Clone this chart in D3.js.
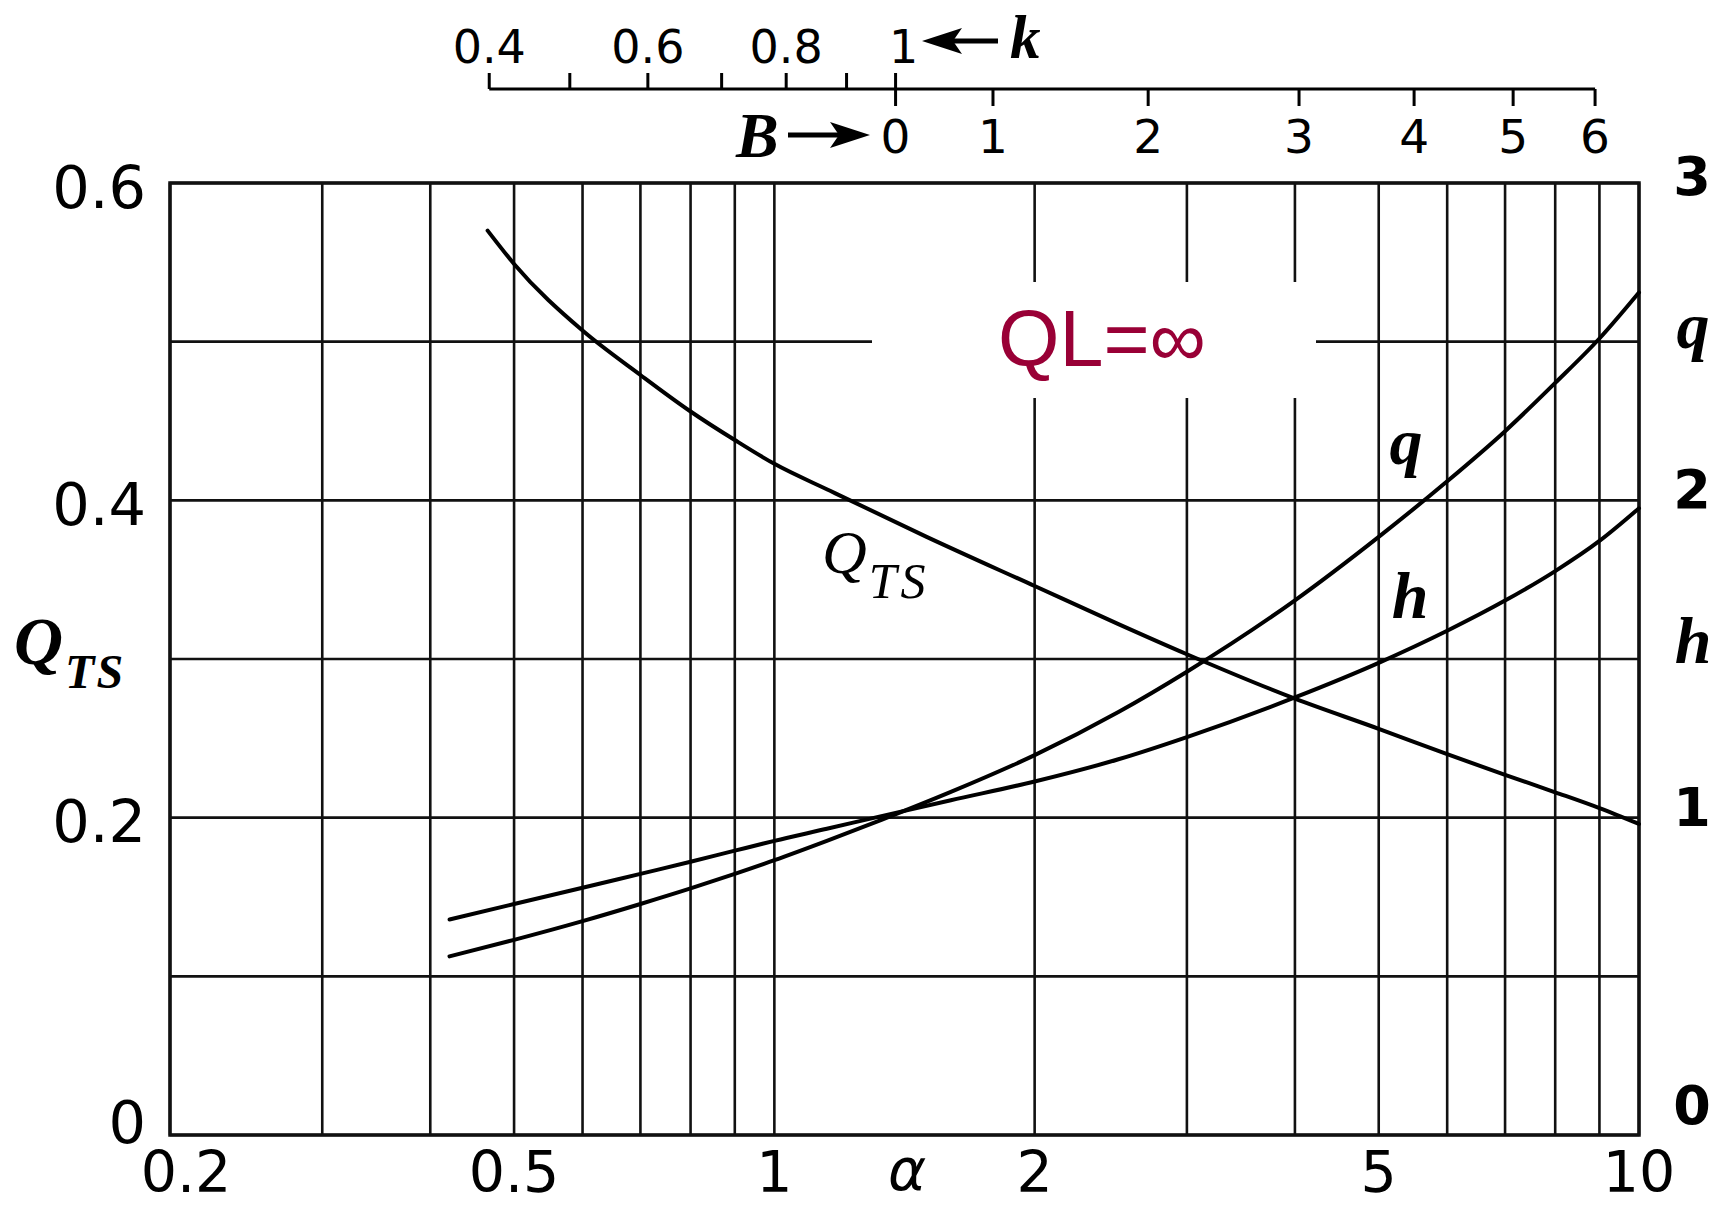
<!DOCTYPE html>
<html>
<head>
<meta charset="utf-8">
<script src="https://cdn.jsdelivr.net/npm/d3@7"></script>
<style>
  html, body { margin: 0; padding: 0; background: #fff; }
  svg { display: block; }
</style>
</head>
<body>
<svg id="chart" width="1719" height="1208"></svg>
<script>
// Sampled curves against the parameter alpha
const alphaQts = [0.466, 0.5, 0.6, 0.7, 0.8, 0.9, 1.0, 1.16, 1.5, 2, 2.5, 3, 4, 5, 6, 7, 8, 9, 10];
const qtsValues = [0.570, 0.549, 0.507, 0.479, 0.456, 0.438, 0.423, 0.406, 0.377, 0.346, 0.322, 0.303, 0.275, 0.256, 0.240, 0.227, 0.216, 0.206, 0.196];

const alphaQH = [0.421, 0.5, 0.6, 0.7, 0.8, 0.9, 1.0, 1.15, 1.33, 1.6, 2, 2.5, 3, 4, 5, 6, 7, 8, 9, 10];
const qValues = [0.563, 0.615, 0.674, 0.728, 0.777, 0.823, 0.866, 0.927, 0.993, 1.081, 1.197, 1.333, 1.460, 1.685, 1.885, 2.060, 2.218, 2.370, 2.510, 2.655];
const hValues = [0.679, 0.728, 0.779, 0.823, 0.861, 0.896, 0.927, 0.965, 1.005, 1.055, 1.114, 1.184, 1.254, 1.379, 1.488, 1.589, 1.684, 1.777, 1.872, 1.975];

// Grid and tick values
const alphaGrid = [0.2, 0.3, 0.4, 0.5, 0.6, 0.7, 0.8, 0.9, 1, 2, 3, 4, 5, 6, 7, 8, 9, 10];
const qtsGrid = [0, 0.1, 0.2, 0.3, 0.4, 0.5, 0.6];
const alphaTickLabels = [0.2, 0.5, 1, 2, 5, 10];
const qtsTickLabels = [0, 0.2, 0.4, 0.6];
const rightTickLabels = [0, 1, 2, 3];

// Auxiliary scales along the top: k and B, with the alpha each tick sits at
const kTicks = [0.4, 0.5, 0.6, 0.7, 0.8, 0.9, 1];
const kAlpha = [0.468, 0.580, 0.714, 0.869, 1.032, 1.212, 1.381];
const kLabelled = [0.4, 0.6, 0.8, 1];
const bTicks = [0, 1, 2, 3, 4, 5, 6];
const bAlpha = [1.381, 1.790, 2.706, 4.044, 5.494, 7.152, 8.896];

const svg = d3.select("#chart");
const L = 170, R = 1639, T = 183, B = 1135;

const x = d3.scaleLog().domain([0.2, 10]).range([L, R]);
const yL = d3.scaleLinear().domain([0, 0.6]).range([B, T]);
const yR = d3.scaleLinear().domain([0, 3]).range([B, T]);

const sans = "'DejaVu Sans', sans-serif";
const serif = "'Liberation Serif', 'DejaVu Serif', serif";
const ink = "#111";

// grid
const grid = svg.append("g").attr("stroke", ink).attr("stroke-width", 2.6);
grid.selectAll("line.v").data(alphaGrid).join("line")
  .attr("class", "v")
  .attr("x1", d => x(d)).attr("x2", d => x(d))
  .attr("y1", T).attr("y2", B);
grid.selectAll("line.h").data(qtsGrid).join("line")
  .attr("class", "h")
  .attr("x1", L).attr("x2", R)
  .attr("y1", d => yL(d)).attr("y2", d => yL(d));

// frame
svg.append("rect")
  .attr("x", L).attr("y", T).attr("width", R - L).attr("height", B - T)
  .attr("fill", "none").attr("stroke", ink).attr("stroke-width", 3.5);

// cleared panel for the load condition note
svg.append("rect")
  .attr("x", 872).attr("y", 282).attr("width", 444).attr("height", 116)
  .attr("fill", "#fff");
svg.append("text")
  .attr("x", 998).attr("y", 366)
  .attr("font-family", "'Liberation Sans', Arial, sans-serif")
  .attr("font-size", 79)
  .attr("fill", "#990036")
  .text("QL=∞");

// curves
const lineL = d3.line().x(d => x(d[0])).y(d => yL(d[1])).curve(d3.curveMonotoneX);
const lineR = d3.line().x(d => x(d[0])).y(d => yR(d[1])).curve(d3.curveMonotoneX);
const curves = svg.append("g").attr("fill", "none").attr("stroke", "#000")
  .attr("stroke-width", 4).attr("stroke-linejoin", "round").attr("stroke-linecap", "round");
curves.append("path").attr("d", lineL(d3.zip(alphaQts, qtsValues)));
curves.append("path").attr("d", lineR(d3.zip(alphaQH, qValues)));
curves.append("path").attr("d", lineR(d3.zip(alphaQH, hValues)));

// bottom alpha labels
svg.append("g").selectAll("text").data(alphaTickLabels).join("text")
  .attr("x", (d, i) => x(d) + (i === 0 ? 16 : 0))
  .attr("y", 1192)
  .attr("text-anchor", "middle")
  .attr("font-family", sans).attr("font-size", 57).attr("fill", "#000")
  .text(d => String(d));
svg.append("text")
  .attr("x", 907).attr("y", 1190).attr("text-anchor", "middle")
  .attr("font-family", sans).attr("font-style", "italic")
  .attr("font-size", 58).attr("fill", "#000").text("α");

// left Q_TS labels
svg.append("g").selectAll("text").data(qtsTickLabels).join("text")
  .attr("x", 146)
  .attr("y", d => Math.min(yL(d) + 4, 1122))
  .attr("dominant-baseline", "central")
  .attr("text-anchor", "end")
  .attr("font-family", sans).attr("font-size", 59).attr("fill", "#000")
  .text(d => d === 0 ? "0" : d.toFixed(1));

// right q/h labels
svg.append("g").selectAll("text").data(rightTickLabels).join("text")
  .attr("x", 1692)
  .attr("y", d => Math.max(195, Math.min(yR(d) + 8, 1124)))
  .attr("text-anchor", "middle")
  .attr("font-family", sans).attr("font-weight", "bold").attr("font-size", 54).attr("fill", "#000")
  .text(d => String(d));

// axis names
const axisLeft = svg.append("text").attr("x", 14).attr("y", 664)
  .attr("font-family", serif).attr("font-style", "italic").attr("font-weight", "bold").attr("fill", "#000");
axisLeft.append("tspan").attr("font-size", 68).text("Q");
axisLeft.append("tspan").attr("font-size", 48).attr("dy", 24).attr("dx", 2)
  .attr("letter-spacing", 2).text("TS");

svg.append("text").attr("x", 1693).attr("y", 348).attr("text-anchor", "middle")
  .attr("font-family", serif).attr("font-style", "italic").attr("font-weight", "bold")
  .attr("font-size", 66).attr("fill", "#000").text("q");
svg.append("text").attr("x", 1693).attr("y", 663).attr("text-anchor", "middle")
  .attr("font-family", serif).attr("font-style", "italic").attr("font-weight", "bold")
  .attr("font-size", 66).attr("fill", "#000").text("h");

// curve names
const curveQts = svg.append("text").attr("x", 822).attr("y", 573)
  .attr("font-family", serif).attr("font-style", "italic").attr("fill", "#000");
curveQts.append("tspan").attr("font-size", 62).text("Q");
curveQts.append("tspan").attr("font-size", 50).attr("dy", 25).attr("dx", 2)
  .attr("letter-spacing", 4).text("TS");
svg.append("text").attr("x", 1406).attr("y", 464).attr("text-anchor", "middle")
  .attr("font-family", serif).attr("font-style", "italic").attr("font-weight", "bold")
  .attr("font-size", 66).attr("fill", "#000").text("q");
svg.append("text").attr("x", 1410).attr("y", 618).attr("text-anchor", "middle")
  .attr("font-family", serif).attr("font-style", "italic").attr("font-weight", "bold")
  .attr("font-size", 66).attr("fill", "#000").text("h");

// top auxiliary scales: k ticks upward, B ticks downward from a shared line
const topY = 89;
const topAxis = svg.append("g").attr("stroke", "#000").attr("stroke-width", 3);
topAxis.append("line")
  .attr("x1", x(kAlpha[0])).attr("x2", x(bAlpha[bAlpha.length - 1]))
  .attr("y1", topY).attr("y2", topY);
topAxis.selectAll("line.k").data(kTicks).join("line")
  .attr("class", "k")
  .attr("x1", (d, i) => x(kAlpha[i])).attr("x2", (d, i) => x(kAlpha[i]))
  .attr("y1", topY).attr("y2", topY - 16);
topAxis.selectAll("line.b").data(bTicks).join("line")
  .attr("class", "b")
  .attr("x1", (d, i) => x(bAlpha[i])).attr("x2", (d, i) => x(bAlpha[i]))
  .attr("y1", topY).attr("y2", topY + 17);

svg.append("g").selectAll("text").data(kLabelled).join("text")
  .attr("x", d => x(kAlpha[kTicks.indexOf(d)]) + (d === 1 ? 8 : 0))
  .attr("y", 63).attr("text-anchor", "middle")
  .attr("font-family", sans).attr("font-size", 46).attr("fill", "#000")
  .text(d => d === 1 ? "1" : d.toFixed(1));
svg.append("g").selectAll("text").data(bTicks).join("text")
  .attr("x", (d, i) => x(bAlpha[i]))
  .attr("y", 153).attr("text-anchor", "middle")
  .attr("font-family", sans).attr("font-size", 47).attr("fill", "#000")
  .text(d => String(d));

// arrow into k
const arrows = svg.append("g");
arrows.append("line").attr("x1", 950).attr("x2", 998).attr("y1", 41).attr("y2", 41)
  .attr("stroke", "#000").attr("stroke-width", 5);
arrows.append("path").attr("d", "M922,41 L962,28 L953,41 L962,54 Z").attr("fill", "#000");
svg.append("text").attr("x", 1010).attr("y", 58)
  .attr("font-family", serif).attr("font-style", "italic").attr("font-weight", "bold")
  .attr("font-size", 61).attr("fill", "#000").text("k");

// arrow out of B
arrows.append("line").attr("x1", 788).attr("x2", 840).attr("y1", 135).attr("y2", 135)
  .attr("stroke", "#000").attr("stroke-width", 5);
arrows.append("path").attr("d", "M870,135 L830,122 L839,135 L830,148 Z").attr("fill", "#000");
svg.append("text").attr("x", 736).attr("y", 157)
  .attr("font-family", serif).attr("font-style", "italic").attr("font-weight", "bold")
  .attr("font-size", 64).attr("fill", "#000").text("B");
</script>
</body>
</html>
